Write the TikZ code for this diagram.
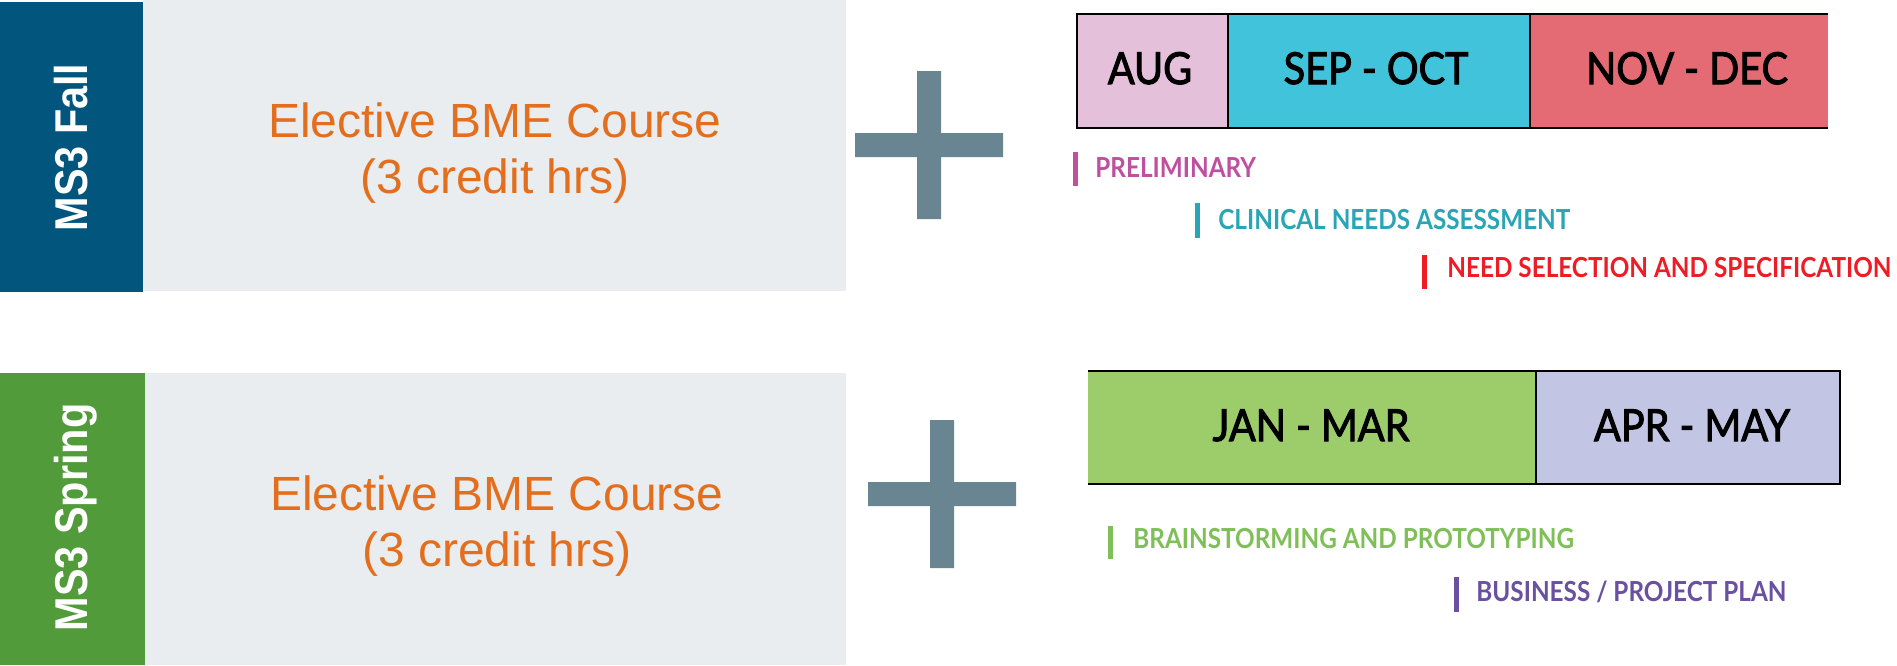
\documentclass[tikz,border=0pt]{standalone}
\usepackage{fontspec}
\setmainfont{Liberation Sans}
\newfontfamily\phasefont{Lato}
\newfontfamily\monthfont[FakeBold=2.5]{Lato}

\definecolor{fallblue}{HTML}{02567E}
\definecolor{springgreen}{HTML}{529B3B}
\definecolor{panelgray}{HTML}{E9EDF0}
\definecolor{courseorange}{HTML}{E36F1E}
\definecolor{plusgray}{HTML}{6A8592}
\definecolor{augpink}{HTML}{E4C0DA}
\definecolor{sepcyan}{HTML}{41C3DC}
\definecolor{novred}{HTML}{E46B74}
\definecolor{jangreen}{HTML}{9CCD6A}
\definecolor{aprlilac}{HTML}{C2C5E4}
\definecolor{prelimcol}{HTML}{C04F9F}
\definecolor{clinicalcol}{HTML}{2AA5B6}
\definecolor{needcol}{HTML}{EE1C25}
\definecolor{braincol}{HTML}{7EBF57}
\definecolor{businesscol}{HTML}{6950A1}

\newcommand{\narrow}[2]{\scalebox{#1}[1]{#2}}

\tikzset{
  semester/.style={rotate=90, anchor=base, inner sep=0pt, text=white,
    font=\fontsize{23}{23}\selectfont\bfseries},
  course/.style={align=center, text=courseorange, inner sep=0pt,
    font=\fontsize{24}{28}\selectfont},
  month/.style={anchor=base, inner sep=0pt, font=\monthfont\fontsize{22}{22}\selectfont},
  phase/.style={anchor=base west, inner sep=0pt,
    font=\phasefont\bfseries\fontsize{13.8}{13.8}\selectfont},
  tick/.style={line width=2.5pt},
  frame/.style={line width=1.1pt}
}

\begin{document}
\begin{tikzpicture}[x=0.5pt, y=-0.5pt]
\useasboundingbox (0,0) rectangle (1897,665);
\fill[white] (0,0) rectangle (1897,665);

% fall semester
\fill[fallblue] (0,2) rectangle (143,292);
\fill[panelgray] (143,0) rectangle (846,291);
\node[semester] (fall) at (87,147.5) {\narrow{.9}{MS3 Fall}};
\node[course] (fallcourse) at (495,153) {Elective BME Course\\(3 credit hrs)};
\fill[plusgray] (929,145) ++(-74,-12) rectangle ++(148,24)
                (929,145) ++(-12,-74) rectangle ++(24,148);

\fill[augpink] (1077,14) rectangle (1228,128);
\fill[sepcyan] (1228,14) rectangle (1530,128);
\fill[novred] (1530,14) rectangle (1828,128);
\draw[frame] (1828,14) -- (1077,14) -- (1077,128) -- (1828,128);
\draw[frame] (1228,14) -- (1228,128) (1530,14) -- (1530,128);
\node[month] (aug) at (1150,84) {\narrow{.9}{AUG}};
\node[month] (sepoct) at (1376,84) {\narrow{.9}{SEP - OCT}};
\node[month] (novdec) at (1687,84) {\narrow{.9}{NOV - DEC}};

\draw[tick, prelimcol] (1075.5,152) -- (1075.5,186);
\node[phase, text=prelimcol] (prelim) at (1095,177) {\narrow{.88}{PRELIMINARY}};
\draw[tick, clinicalcol] (1197.5,203) -- (1197.5,238);
\node[phase, text=clinicalcol] (clinical) at (1218,229) {\narrow{.88}{CLINICAL NEEDS ASSESSMENT}};
\draw[tick, needcol] (1424.5,255) -- (1424.5,289);
\node[phase, text=needcol] (need) at (1447,277) {\narrow{.88}{NEED SELECTION AND SPECIFICATION}};

% spring semester
\fill[springgreen] (0,373) rectangle (145,665);
\fill[panelgray] (145,373) rectangle (846,665);
\node[semester] (spring) at (87,517.5) {\narrow{.9}{MS3 Spring}};
\node[course] (springcourse) at (497,526) {Elective BME Course\\(3 credit hrs)};
\fill[plusgray] (942,494) ++(-74,-12) rectangle ++(148,24)
                (942,494) ++(-12,-74) rectangle ++(24,148);

\fill[jangreen] (1088,371) rectangle (1536,484);
\fill[aprlilac] (1536,371) rectangle (1840,484);
\draw[frame] (1088,371) -- (1840,371) -- (1840,484) -- (1088,484);
\draw[frame] (1536,371) -- (1536,484);
\node[month] (janmar) at (1311,441) {\narrow{.9}{JAN - MAR}};
\node[month] (aprmay) at (1692,441) {\narrow{.9}{APR - MAY}};

\draw[tick, braincol] (1110.5,526) -- (1110.5,559);
\node[phase, text=braincol] (brain) at (1133,548) {\narrow{.88}{BRAINSTORMING AND PROTOTYPING}};
\draw[tick, businesscol] (1456.5,577) -- (1456.5,612);
\node[phase, text=businesscol] (business) at (1476,601) {\narrow{.88}{BUSINESS / PROJECT PLAN}};
\end{tikzpicture}
\end{document}
